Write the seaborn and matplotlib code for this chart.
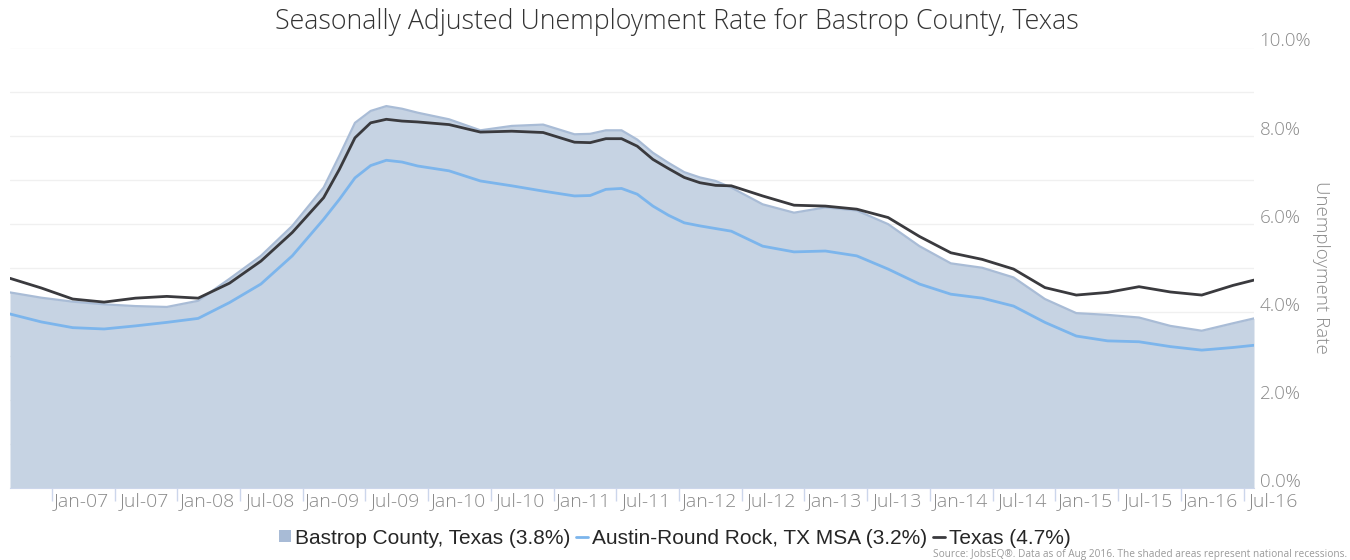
import numpy as np
import pandas as pd
import matplotlib
matplotlib.use("Agg")
import matplotlib.pyplot as plt
import seaborn as sns
from matplotlib.patches import Patch
from matplotlib.lines import Line2D
from matplotlib.transforms import ScaledTranslation

# months counted from the first data point (denser around the bends)
months = [0, 3, 6, 9, 12, 15, 18, 21, 24, 27, 30, 31.5, 33, 34.5, 36, 37.5, 39, 42, 45, 48,
          51, 54, 55.5, 57, 58.5, 60, 61.5, 63, 64.5, 66, 67.5, 69, 72, 75, 78, 81, 84, 87,
          90, 93, 96, 99, 102, 105, 108, 111, 114, 117, 119]

bastrop = [4.44, 4.32, 4.23, 4.17, 4.13, 4.11, 4.25, 4.75, 5.27, 5.95, 6.82, 7.54, 8.29,
           8.56, 8.67, 8.61, 8.52, 8.37, 8.12, 8.22, 8.25, 8.03, 8.04, 8.12, 8.12, 7.91,
           7.61, 7.38, 7.17, 7.05, 6.97, 6.82, 6.44, 6.25, 6.37, 6.30, 5.99, 5.49, 5.10,
           5.00, 4.78, 4.29, 3.97, 3.93, 3.87, 3.68, 3.57, 3.74, 3.85]
austin = [3.95, 3.77, 3.64, 3.61, 3.68, 3.76, 3.85, 4.21, 4.63, 5.27, 6.10, 6.55, 7.04,
          7.32, 7.44, 7.40, 7.31, 7.20, 6.97, 6.86, 6.74, 6.63, 6.64, 6.78, 6.80, 6.67,
          6.40, 6.19, 6.02, 5.95, 5.89, 5.83, 5.49, 5.36, 5.38, 5.27, 4.97, 4.63, 4.40,
          4.31, 4.13, 3.76, 3.45, 3.34, 3.32, 3.21, 3.13, 3.19, 3.24]
texas = [4.76, 4.54, 4.29, 4.22, 4.31, 4.35, 4.31, 4.65, 5.15, 5.80, 6.59, 7.23, 7.95,
         8.29, 8.37, 8.33, 8.31, 8.25, 8.08, 8.10, 8.07, 7.85, 7.84, 7.93, 7.93, 7.76,
         7.46, 7.25, 7.05, 6.93, 6.87, 6.86, 6.63, 6.42, 6.40, 6.33, 6.14, 5.71, 5.34,
         5.19, 4.97, 4.55, 4.38, 4.44, 4.57, 4.45, 4.38, 4.60, 4.72]

tick_marks = [4, 10, 16, 22, 28, 34, 40, 46, 52, 58, 64, 70, 76, 82, 88, 94, 100, 106, 112, 118]
tick_labels = ["Jan-07", "Jul-07", "Jan-08", "Jul-08", "Jan-09", "Jul-09", "Jan-10", "Jul-10",
               "Jan-11", "Jul-11", "Jan-12", "Jul-12", "Jan-13", "Jul-13", "Jan-14", "Jul-14",
               "Jan-15", "Jul-15", "Jan-16", "Jul-16"]

series_names = ["Bastrop County, Texas (3.8%)", "Austin-Round Rock, TX MSA (3.2%)", "Texas (4.7%)"]

AREA_FILL = "#c6d3e3"
AREA_EDGE = "#a9bcd6"
AUSTIN_COLOR = "#7cb5ec"
TEXAS_COLOR = "#3a3a3e"
GREY = "#8a8a8a"

sns.set_style("white")
plt.rcParams["font.family"] = ["Open Sans", "DejaVu Sans"]

df = pd.DataFrame({"month": months, "bastrop": bastrop, "austin": austin, "texas": texas})

fig = plt.figure(figsize=(13.5, 5.6), dpi=100)
ax = fig.add_axes([10 / 1350, 1 - 488 / 560, 1244 / 1350, 440.5 / 560])

# shaded county area with a slightly darker rim
ax.fill_between(df["month"], 0, df["bastrop"], color=AREA_FILL, lw=0, zorder=2)
sns.lineplot(data=df, x="month", y="bastrop", color=AREA_EDGE, lw=1.6, ax=ax, zorder=3)
sns.lineplot(data=df, x="month", y="austin", color=AUSTIN_COLOR, lw=2.0, ax=ax, zorder=4)
sns.lineplot(data=df, x="month", y="texas", color=TEXAS_COLOR, lw=2.0, ax=ax, zorder=5)

# horizontal grid every 1%, labels only on even values
ax.set_yticks(np.arange(0, 11, 1))
ax.set_yticklabels([f"{v:.1f}%" if v % 2 == 0 else "" for v in range(0, 11)])
ax.grid(axis="y", color="#f0f0f0", lw=1)
ax.set_axisbelow(True)
ax.yaxis.tick_right()
ax.tick_params(axis="y", length=0, pad=4, labelsize=13.5, labelcolor=GREY)
for lab in ax.get_yticklabels():
    lab.set_verticalalignment("baseline")
    lab.set_fontweight("light")
    lab.set_transform(lab.get_transform() + ScaledTranslation(0, 1 / 100, fig.dpi_scale_trans))

# x axis: tick marks at interval edges, labels centred between them
ax.set_xticks(tick_marks)
ax.set_xticklabels(tick_labels)
ax.tick_params(axis="x", length=9, width=1, color="#ccd6eb", direction="out", bottom=True,
               pad=-6, labelsize=14, labelcolor=GREY)
for lab in ax.get_xticklabels():
    lab.set_fontweight("light")
    lab.set_clip_on(False)
    lab.set_transform(lab.get_transform() + ScaledTranslation(30 / 100, 0, fig.dpi_scale_trans))

ax.set_xlim(0, 119)
ax.set_ylim(0, 10)

for side in ["top", "left", "right"]:
    ax.spines[side].set_visible(False)
ax.spines["bottom"].set_color("#ccd6eb")
ax.set_xlabel("")
ax.set_ylabel("Unemployment Rate", rotation=270, color=GREY, fontsize=13.5, fontweight="light")
ax.yaxis.set_label_position("right")
ax.yaxis.set_label_coords(1.061, 0.5)

fig.text(677 / 1350, 1 - 22 / 560, "Seasonally Adjusted Unemployment Rate for Bastrop County, Texas",
         ha="center", va="center", fontsize=19.3, fontweight="light", color="#333333")

handles = [
    Patch(facecolor="#a8bbd6", edgecolor="none"),
    Line2D([], [], color=AUSTIN_COLOR, lw=2),
    Line2D([], [], color=TEXAS_COLOR, lw=2),
]
fig.legend(handles, series_names, loc="center", bbox_to_anchor=(675 / 1350, 1 - 538 / 560),
           ncol=3, frameon=False, handlelength=0.55, handleheight=0.55, handletextpad=0.2,
           columnspacing=0.3, prop={"family": "Liberation Sans", "size": 15})

fig.text(1347 / 1350, 1 - 554 / 560,
         "Source: JobsEQ\u00ae. Data as of Aug 2016. The shaded areas represent national recessions.",
         ha="right", va="center", fontsize=7.3, color="#9a9a9a")

fig.savefig("out.png", dpi=100)
